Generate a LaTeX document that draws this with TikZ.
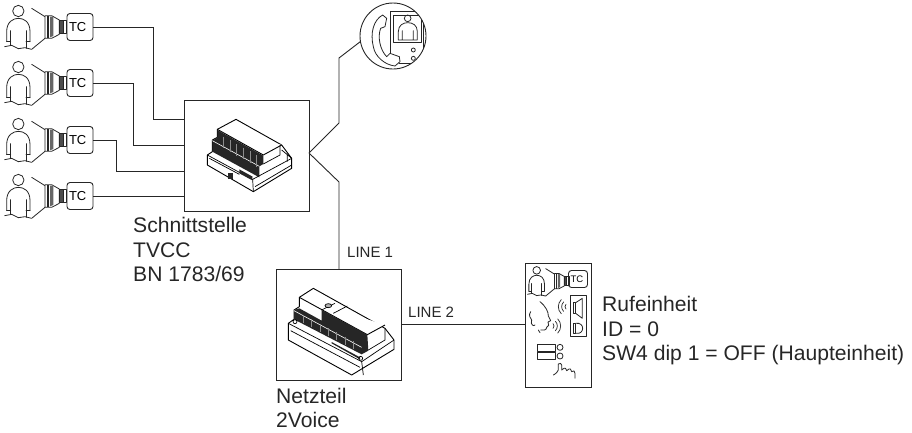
\documentclass[tikz,border=0pt]{standalone}
\usepackage{fontspec}
\setmainfont{Liberation Sans}
\usetikzlibrary{arrows.meta,calc,positioning}

\tikzset{
  wire/.style={line width=0.9pt,draw=black!85},
  unitbox/.style={draw=black!85,line width=0.9pt,fill=white,inner sep=0pt},
  tcbox/.style={draw=black!85,line width=0.9pt,rounded corners=3pt,text width=22pt,minimum height=27pt,inner xsep=2pt,inner ysep=0pt,align=left,font=\fontsize{13}{13}\selectfont},
  caption/.style={align=left,anchor=north west,inner sep=0pt,text=black!85,font=\fontsize{21.1}{24.5}\selectfont},
  linelabel/.style={anchor=base west,inner sep=0pt,text=black!85,font=\fontsize{15}{15}\selectfont},
  thinline/.style={line width=0.8pt,draw=black!85,line join=round,line cap=round},
  % person with the speech horn, coordinates taken at 3x
  pics/talker/.style={code={
    \begin{scope}[scale=1/3,thinline]
      \draw (55,33) circle (17);
      \draw (20,125) -- (20,95) .. controls (20,65) and (40,55) .. (55,55) .. controls (72,55) and (90,65) .. (90,95) -- (90,125);
      \draw (32,92) -- (32,135) (78,92) -- (78,145) (20,125) -- (32,125) (78,125) -- (90,125);
      \draw (14,140) -- (35,136) -- (55,146) -- (75,143) -- (95,148) -- (135,115);
      \draw (95,25) -- (135,50);
      \draw[fill=white] (135,47) -- (155,47) -- (178,60) -- (178,103) -- (155,115) -- (135,115) -- cycle;
      \fill[black!85] (140,47) rectangle (148,115);
      \fill[black!60] (150,50) -- (160,50) -- (160,108) -- (150,112) -- cycle;
      \draw[fill=black!70] (178,60) rectangle (190,100);
      \draw (190,60) rectangle (200,100);
    \end{scope}
  }},
  moduleline/.style={line width=0.9pt,draw=black,fill=white,line join=round},
  detail/.style={line width=0.7pt,draw=black},
  % wave arcs of the loudspeaker
  wavearc/.style={line width=0.7pt,draw=black!85,line cap=round},
}

\begin{document}
\begin{tikzpicture}[x=1pt,y=-1pt]
\useasboundingbox (0,0) rectangle (912,432);

% interface and power unit
\node[unitbox,minimum width=125pt,minimum height=111pt] (iface) at (246.5,155.5) {};
\node[unitbox,minimum width=125pt,minimum height=111pt] (power) at (338.5,324.5) {};
\node[unitbox,minimum width=66pt,minimum height=124pt] (door) at (558,325) {};
\node[draw=black!85,line width=0.9pt,circle,minimum size=66pt,inner sep=0pt] (monitor) at (393,36) {};

% four cameras
\foreach \row/\ypos in {1/0,2/56,3/113,4/169}{
  \pic at (0,\ypos) {talker};
  \node[tcbox] (tc\row) at (80,27+\ypos) {TC};
}

% named points of the wiring
\coordinate (in1) at (184,119);
\coordinate (in2) at (184,145);
\coordinate (in3) at (184,171);
\coordinate (in4) at (184,196);
\coordinate (fork) at (309,153);
\coordinate (bendup) at (339,123);
\coordinate (benddown) at (339,182);
\coordinate (topend) at (339,58);
\coordinate (line1end) at (339,269);
\coordinate (line2end) at (401,324);
\coordinate (line2door) at (525,324);

\draw[wire] (tc1.east) -- ++(60,0) |- (in1);
\draw[wire] (tc2.east) -- ++(40,0) |- (in2);
\draw[wire] (tc3.east) -- ++(23,0) |- (in3);
\draw[wire] (tc4.east) -- (in4);
\draw[wire] (fork) -- (bendup) -- (topend) -- (monitor.190);
\draw[wire] (fork) -- (benddown) -- (line1end);
\draw[wire] (line2end) -- (line2door);

% interface module
\begin{scope}[shift={(180,90)},scale=1/3]
  \draw[moduleline] (168,88) -- (305,165) -- (335,205) -- (335,235) -- (220,305) -- (82,225) -- (82,195) -- (97,185) -- (97,150) -- (112,142) -- (112,118) -- cycle;
  \draw[moduleline] (112,118) -- (250,195) -- (305,165);
  \fill[black!85] (112,120) -- (250,197) -- (250,222) -- (238,229) -- (238,262) -- (97,185) -- (97,152) -- (112,143) -- cycle;
  \draw[white,line width=0.6pt] (97,152) -- (238,229);
  \foreach \x in {130,150,170,190,210,230}
    \draw[black!45,line width=0.4pt] (\x,{130+(\x-112)*0.55}) -- (\x,{165+(\x-112)*0.55});
  \draw[detail] (250,222) -- (300,195) -- (300,165);
  \draw[detail] (82,195) -- (178,247) -- (218,268) -- (220,305);
  \draw[detail] (218,268) -- (335,205);
  \draw[detail] (88,205) -- (178,253);
  \fill[black!85] (178,238) -- (218,260) -- (215,270) -- (178,250) -- cycle;
  \fill[black!85] (145,250) rectangle (160,268);
  \draw[detail] (225,290) -- (335,225);
  \draw[detail] (305,180) -- (335,205) (322,190) -- (322,215);
\end{scope}

% power module
\begin{scope}[shift={(270,260)},scale=1/3]
  \draw[moduleline] (130,85) -- (345,205) -- (372,240) -- (372,268) -- (245,345) -- (55,240) -- (55,190) -- (72,178) -- (72,150) -- (88,140) -- (88,112) -- cycle;
  \draw[moduleline] (88,112) -- (292,224) -- (345,195);
  \fill[black!85] (88,145) -- (155,182) -- (155,150) -- (292,224) -- (295,272) -- (275,283) -- (72,178) -- (72,150) -- cycle;
  \draw[white,line width=0.6pt] (72,152) -- (275,262);
  \foreach \x in {100,125,150,175,200,225,250}
    \draw[black!45,line width=0.4pt] (\x,{158+(\x-88)*0.53}) -- (\x,{182+(\x-88)*0.53});
  \draw[detail] (155,150) -- (195,130) (190,160) -- (232,138);
  \draw[detail,fill=black!30] (175,137) ellipse (10 and 6);
  \draw[detail] (55,190) -- (275,305) -- (280,345);
  \draw[detail] (62,212) -- (270,322);
  \draw[detail] (275,305) -- (372,240);
  \fill[black!85] (185,250) -- (270,298) -- (270,292) -- (185,246) -- cycle;
  \draw[detail] (75,185) circle (6) (272,295) circle (6);
  \draw[detail] (295,270) -- (345,240) -- (345,205);
\end{scope}

% handset and monitor
\begin{scope}
  \clip (monitor) circle (33);
  \begin{scope}[shift={(340,0)},scale=1/3,thinline]
    \draw (150,165) -- (150,35) -- (250,35) -- (250,190) -- (178,190);
    \draw (160,45) rectangle (245,128);
    \draw (203,55) circle (10);
    \draw (175,120) -- (175,95) .. controls (175,75) and (190,68) .. (203,68) .. controls (218,68) and (232,75) .. (232,95) -- (232,120) (175,120) -- (232,120) (187,92) -- (187,120) (220,92) -- (220,120);
    \draw (220,150) circle (6) (220,175) circle (6);
    \draw[fill=white] (128,45) .. controls (100,60) and (90,100) .. (100,140) .. controls (105,170) and (135,195) .. (165,198) -- (180,185) -- (178,170) -- (150,160) -- (140,170) .. controls (120,150) and (112,110) .. (122,85) -- (135,80) -- (140,55) -- cycle;
  \end{scope}
\end{scope}

% door unit symbols
\pic[scale=0.67] at (524.4,263) {talker};
\node[tcbox,text width=15pt,minimum height=17pt,font=\fontsize{9.5}{10}\selectfont] (tc5) at (578,279) {TC};
\begin{scope}[shift={(510,250)},scale=1/3,thinline]
  % loudspeaker and mic
  \draw (180,137) rectangle (228,260);
  \draw (190,158) rectangle (197,190);
  \draw (197,158) -- (217,145) -- (217,205) -- (197,190);
  \draw (190,220) rectangle (197,250);
  \draw (197,220) .. controls (225,215) and (225,255) .. (197,250);
  % head
  \draw (90,155) .. controls (108,170) and (115,185) .. (115,198) -- (122,212) -- (114,216) -- (116,226) -- (110,232) .. controls (110,240) and (100,242) .. (92,240);
  \draw (62,185) .. controls (55,195) and (60,205) .. (65,210) .. controls (60,225) and (72,230) .. (75,225);
  \draw (85,240) -- (90,248);
  % sound waves
  \foreach \r in {10,20,30}{
    \draw[wavearc] (175,170) ++(135:\r) arc (135:225:\r);
    \draw[wavearc] (122,228) ++(-45:\r) arc (-45:45:\r);
  }
  % keys
  \draw (82,283) rectangle (135,304) (82,308) rectangle (135,328);
  \draw (150,292) circle (9) (150,318) circle (9);
  % hand
  \draw (130,375) .. controls (140,370) and (142,365) .. (145,360) -- (145,342) .. controls (150,338) and (154,340) .. (155,345) -- (155,360) .. controls (165,350) and (170,355) .. (170,362) .. controls (180,352) and (185,358) .. (185,365) .. controls (190,360) and (195,362) .. (195,370) -- (195,385);
\end{scope}

% texts
\node[caption] (ifacetext) at (133,217.5) {Schnittstelle\\TVCC\\BN 1783/69};
\node[caption] (powertext) at (276,387.5) {Netzteil\\2Voice};
\node[caption] (doortext) at (602,296.5) {Rufeinheit\\ID = 0\\SW4 dip 1 = OFF (Haupteinheit)};
\node[linelabel] (line1text) at (347,257) {LINE 1};
\node[linelabel] (line2text) at (408,317) {LINE 2};
\end{tikzpicture}
\end{document}
